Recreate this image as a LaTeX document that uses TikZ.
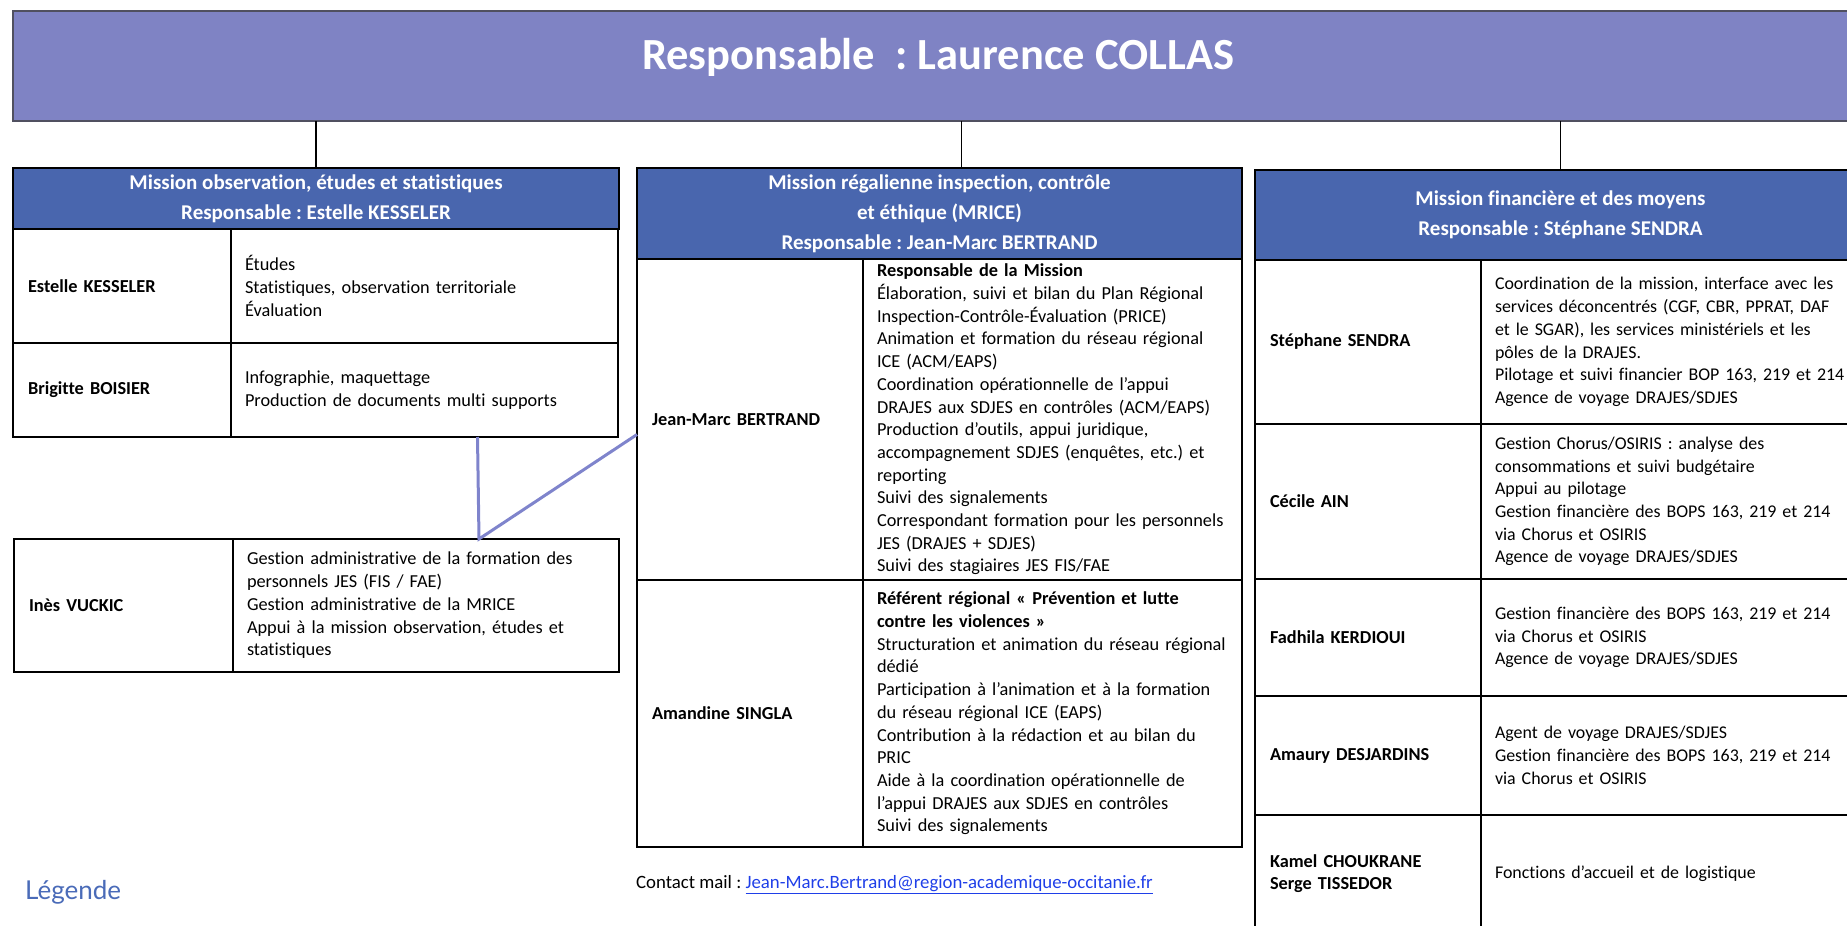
\documentclass[tikz,border=0pt]{standalone}
\usepackage{fontspec}
\setmainfont{Carlito}[Ligatures=NoCommon]
\newfontfamily\legendfont{Lato}
\usepackage{xcolor}
\usetikzlibrary{positioning}
\definecolor{topfill}{HTML}{7F83C4}
\definecolor{topline}{HTML}{505060}
\definecolor{hdrfill}{HTML}{4966AE}
\definecolor{liaisonline}{HTML}{7F84CC}
\definecolor{legendblue}{HTML}{4A6BB8}
\definecolor{mailblue}{HTML}{1F3FE8}
\newcommand{\celltext}{\fontsize{18.3}{22.7}\selectfont}
\newcommand{\celltextR}{\fontsize{17.9}{22.7}\selectfont}
\newcommand{\headtext}{\fontsize{21}{30}\selectfont\bfseries}
\newcommand{\titletext}{\fontsize{44.5}{48}\selectfont\bfseries}
\frenchspacing
\tikzset{
	head/.style={
		draw=topline, line width=1.5pt, fill=topfill, anchor=north west,
		outer sep=0pt, minimum width=1857pt, minimum height=110pt
	},
	mission/.style={
		draw, line width=2.2pt, fill=hdrfill, text=white,
		font=\headtext, align=center, anchor=north west, outer sep=0pt,
		inner sep=0pt
	},
	person/.style={
		draw, line width=2.2pt, outer sep=0pt, inner xsep=15pt, inner ysep=0pt,
		font=\celltext\bfseries, align=left
	},
	duties/.style={
		draw, line width=2.2pt, outer sep=0pt, inner xsep=14pt, inner ysep=0pt,
		font=\celltext, align=left
	},
	finance/.style={duties, font=\celltextR},
	trunk/.style={line width=1.5pt},
	liaison/.style={line width=3pt, draw=liaisonline}
}

\begin{document}
\begin{tikzpicture}[x=1pt,y=-1pt]
\useasboundingbox (0,0) rectangle (1847,926);
\clip (0,0) rectangle (1847,926);

\node [head] (top) at (13,11) {};
\node [anchor=base,text=white,font=\titletext] (title) at (938,69) {Responsable\ \ : Laurence COLLAS};

% mission observation
\draw
	node [mission,minimum width=606pt,minimum height=61pt] (hdrL) at (13,168)
		{Mission observation, études et statistiques\\Responsable : Estelle KESSELER}
	node [person,text width=188pt,minimum height=114pt,below right=0pt and 0pt of hdrL.south west] (nmL1)
		{Estelle KESSELER}
	node [duties,text width=359pt,minimum height=114pt,right=0pt of nmL1] (txL1)
		{Études\\Statistiques, observation territoriale\\Évaluation}
	node [person,text width=188pt,minimum height=94pt,below right=0pt and 0pt of nmL1.south west] (nmL2)
		{Brigitte BOISIER}
	node [duties,text width=359pt,minimum height=94pt,right=0pt of nmL2] (txL2)
		{Infographie, maquettage\\Production de documents multi supports}
	node [person,text width=189pt,minimum height=133pt,anchor=north west] (nmI) at (14,539)
		{Inès VUCKIC}
	node [duties,text width=358pt,minimum height=133pt,right=0pt of nmI] (txI)
		{Gestion administrative de la formation des\\personnels JES (FIS / FAE)\\Gestion administrative de la MRICE\\Appui à la mission observation, études et\\statistiques}
;

% mission regalienne
\draw
	node [mission,minimum width=605pt,minimum height=91pt] (hdrM) at (637,168)
		{Mission régalienne inspection, contrôle\\et éthique (MRICE)\\Responsable : Jean-Marc BERTRAND}
	node [person,text width=196pt,minimum height=321pt,below right=0pt and 0pt of hdrM.south west] (nmM1)
		{Jean-Marc BERTRAND}
	node [duties,text width=351pt,minimum height=321pt,right=0pt of nmM1] (txM1)
		{\textbf{Responsable de la Mission}\\Élaboration, suivi et bilan du Plan Régional\\Inspection-Contrôle-Évaluation (PRICE)\\Animation et formation du réseau régional\\ICE (ACM/EAPS)\\Coordination opérationnelle de l’appui\\DRAJES aux SDJES en contrôles (ACM/EAPS)\\Production d’outils, appui juridique,\\accompagnement SDJES (enquêtes, etc.) et\\reporting\\Suivi des signalements\\Correspondant formation pour les personnels\\JES (DRAJES + SDJES)\\Suivi des stagiaires JES FIS/FAE}
	node [person,text width=196pt,minimum height=267pt,below right=0pt and 0pt of nmM1.south west] (nmM2)
		{Amandine SINGLA}
	node [duties,text width=351pt,minimum height=267pt,right=0pt of nmM2] (txM2)
		{\textbf{Référent régional « Prévention et lutte}\\\textbf{contre les violences »}\\Structuration et animation du réseau régional\\dédié\\Participation à l’animation et à la formation\\du réseau régional ICE (EAPS)\\Contribution à la rédaction et au bilan du\\PRIC\\Aide à la coordination opérationnelle de\\l’appui DRAJES aux SDJES en contrôles\\Suivi des signalements}
;

% mission financiere
\draw
	node [mission,minimum width=611pt,minimum height=90pt] (hdrR) at (1255,170)
		{Mission financière et des moyens\\Responsable : Stéphane SENDRA}
	node [person,text width=196pt,minimum height=164pt,below right=0pt and 0pt of hdrR.south west] (nmR1)
		{Stéphane SENDRA}
	node [finance,text width=380pt,minimum height=164pt,right=0pt of nmR1] (txR1)
		{Coordination de la mission, interface avec les\\services déconcentrés (CGF, CBR, PPRAT, DAF\\et le SGAR), les services ministériels et les\\pôles de la DRAJES.\\Pilotage et suivi financier BOP 163, 219 et 214\\Agence de voyage DRAJES/SDJES}
	node [person,text width=196pt,minimum height=155pt,below right=0pt and 0pt of nmR1.south west] (nmR2)
		{Cécile AIN}
	node [finance,text width=380pt,minimum height=155pt,right=0pt of nmR2] (txR2)
		{Gestion Chorus/OSIRIS : analyse des\\consommations et suivi budgétaire\\Appui au pilotage\\Gestion financière des BOPS 163, 219 et 214\\via Chorus et OSIRIS\\Agence de voyage DRAJES/SDJES}
	node [person,text width=196pt,minimum height=117pt,below right=0pt and 0pt of nmR2.south west] (nmR3)
		{Fadhila KERDIOUI}
	node [finance,text width=380pt,minimum height=117pt,right=0pt of nmR3] (txR3)
		{Gestion financière des BOPS 163, 219 et 214\\via Chorus et OSIRIS\\Agence de voyage DRAJES/SDJES}
	node [person,text width=196pt,minimum height=119pt,below right=0pt and 0pt of nmR3.south west] (nmR4)
		{Amaury DESJARDINS}
	node [finance,text width=380pt,minimum height=119pt,right=0pt of nmR4] (txR4)
		{Agent de voyage DRAJES/SDJES\\Gestion financière des BOPS 163, 219 et 214\\via Chorus et OSIRIS}
	node [person,text width=196pt,minimum height=117pt,below right=0pt and 0pt of nmR4.south west] (nmR5)
		{Kamel CHOUKRANE\\Serge TISSEDOR}
	node [finance,text width=380pt,minimum height=117pt,right=0pt of nmR5] (txR5)
		{Fonctions d’accueil et de logistique}
;

% liaisons
\draw [trunk] (top.south -| hdrL.north) -- (hdrL.north);
\draw [trunk] ([xshift=22pt]top.south -| hdrM.north) -- ([xshift=22pt]hdrM.north);
\draw [trunk] (top.south -| hdrR.north) -- (hdrR.north);
\draw [liaison] ([xshift=53pt]txL2.south) -- ([xshift=53pt]txI.north) -- ([yshift=-15pt]nmM1.west);

\node [anchor=west,inner sep=0pt,font=\legendfont\fontsize{26}{30}\selectfont,text=legendblue] (legende) at (25,892) {Légende};
\node [anchor=west,font=\fontsize{18.8}{22.7}\selectfont,inner xsep=0pt] (mail) at (636,885)
	{Contact mail : \textcolor{mailblue}{\underline{Jean-Marc.Bertrand@region-academique-occitanie.fr}}};
\end{tikzpicture}
\end{document}
